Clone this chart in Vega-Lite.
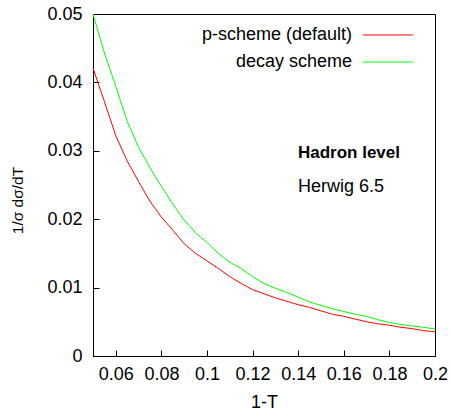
{
  "$schema": "https://vega.github.io/schema/vega-lite/v6.json",
  "width": 342,
  "height": 342,
  "autosize": "none",
  "padding": {"left": 93, "top": 14, "right": 17, "bottom": 54},
  "background": "white",
  "config": {
    "view": {"stroke": "black", "strokeWidth": 1},
    "font": "Liberation Sans",
    "axis": {
      "grid": false,
      "domainColor": "black",
      "labelColor": "black",
      "titleColor": "black",
      "labelFont": "Liberation Sans",
      "titleFont": "Liberation Sans",
      "labelFontSize": 18,
      "titleFontSize": 18,
      "titleFontWeight": "normal",
      "labelFlush": false,
      "labelOverlap": false
    }
  },
  "datasets": {
    "curves": [
      {"t": 0.05, "scheme": "p-scheme (default)", "v": 0.0421},
      {"t": 0.055, "scheme": "p-scheme (default)", "v": 0.0372},
      {"t": 0.06, "scheme": "p-scheme (default)", "v": 0.0322},
      {"t": 0.065, "scheme": "p-scheme (default)", "v": 0.0285},
      {"t": 0.07, "scheme": "p-scheme (default)", "v": 0.0255},
      {"t": 0.075, "scheme": "p-scheme (default)", "v": 0.0226},
      {"t": 0.08, "scheme": "p-scheme (default)", "v": 0.0203},
      {"t": 0.085, "scheme": "p-scheme (default)", "v": 0.0184},
      {"t": 0.09, "scheme": "p-scheme (default)", "v": 0.0164},
      {"t": 0.095, "scheme": "p-scheme (default)", "v": 0.0150},
      {"t": 0.1, "scheme": "p-scheme (default)", "v": 0.0139},
      {"t": 0.105, "scheme": "p-scheme (default)", "v": 0.0128},
      {"t": 0.11, "scheme": "p-scheme (default)", "v": 0.0116},
      {"t": 0.115, "scheme": "p-scheme (default)", "v": 0.0106},
      {"t": 0.12, "scheme": "p-scheme (default)", "v": 0.0097},
      {"t": 0.125, "scheme": "p-scheme (default)", "v": 0.0091},
      {"t": 0.13, "scheme": "p-scheme (default)", "v": 0.0085},
      {"t": 0.135, "scheme": "p-scheme (default)", "v": 0.0080},
      {"t": 0.14, "scheme": "p-scheme (default)", "v": 0.0075},
      {"t": 0.145, "scheme": "p-scheme (default)", "v": 0.0071},
      {"t": 0.15, "scheme": "p-scheme (default)", "v": 0.0066},
      {"t": 0.155, "scheme": "p-scheme (default)", "v": 0.0061},
      {"t": 0.16, "scheme": "p-scheme (default)", "v": 0.0058},
      {"t": 0.165, "scheme": "p-scheme (default)", "v": 0.0054},
      {"t": 0.17, "scheme": "p-scheme (default)", "v": 0.0050},
      {"t": 0.175, "scheme": "p-scheme (default)", "v": 0.0047},
      {"t": 0.18, "scheme": "p-scheme (default)", "v": 0.0045},
      {"t": 0.185, "scheme": "p-scheme (default)", "v": 0.0042},
      {"t": 0.19, "scheme": "p-scheme (default)", "v": 0.0040},
      {"t": 0.195, "scheme": "p-scheme (default)", "v": 0.0037},
      {"t": 0.2, "scheme": "p-scheme (default)", "v": 0.00355},
      {"t": 0.05, "scheme": "decay scheme", "v": 0.0500},
      {"t": 0.055, "scheme": "decay scheme", "v": 0.0443},
      {"t": 0.06, "scheme": "decay scheme", "v": 0.0394},
      {"t": 0.065, "scheme": "decay scheme", "v": 0.0343},
      {"t": 0.07, "scheme": "decay scheme", "v": 0.0305},
      {"t": 0.075, "scheme": "decay scheme", "v": 0.0275},
      {"t": 0.08, "scheme": "decay scheme", "v": 0.0248},
      {"t": 0.085, "scheme": "decay scheme", "v": 0.0222},
      {"t": 0.09, "scheme": "decay scheme", "v": 0.0199},
      {"t": 0.095, "scheme": "decay scheme", "v": 0.0180},
      {"t": 0.1, "scheme": "decay scheme", "v": 0.0166},
      {"t": 0.105, "scheme": "decay scheme", "v": 0.0150},
      {"t": 0.11, "scheme": "decay scheme", "v": 0.0137},
      {"t": 0.115, "scheme": "decay scheme", "v": 0.0128},
      {"t": 0.12, "scheme": "decay scheme", "v": 0.0116},
      {"t": 0.125, "scheme": "decay scheme", "v": 0.0106},
      {"t": 0.13, "scheme": "decay scheme", "v": 0.0099},
      {"t": 0.135, "scheme": "decay scheme", "v": 0.0093},
      {"t": 0.14, "scheme": "decay scheme", "v": 0.0086},
      {"t": 0.145, "scheme": "decay scheme", "v": 0.0079},
      {"t": 0.15, "scheme": "decay scheme", "v": 0.0074},
      {"t": 0.155, "scheme": "decay scheme", "v": 0.0069},
      {"t": 0.16, "scheme": "decay scheme", "v": 0.0065},
      {"t": 0.165, "scheme": "decay scheme", "v": 0.0061},
      {"t": 0.17, "scheme": "decay scheme", "v": 0.0058},
      {"t": 0.175, "scheme": "decay scheme", "v": 0.0053},
      {"t": 0.18, "scheme": "decay scheme", "v": 0.0049},
      {"t": 0.185, "scheme": "decay scheme", "v": 0.0046},
      {"t": 0.19, "scheme": "decay scheme", "v": 0.0044},
      {"t": 0.195, "scheme": "decay scheme", "v": 0.0042},
      {"t": 0.2, "scheme": "decay scheme", "v": 0.00395}
    ]
  },
  "layer": [
    {
      "data": {"name": "curves"},
      "mark": {"type": "line", "strokeWidth": 1},
      "encoding": {
        "x": {
          "field": "t",
          "type": "quantitative",
          "scale": {"domain": [0.05, 0.2], "nice": false, "zero": false},
          "axis": {
            "orient": "bottom",
            "values": [0.06, 0.08, 0.1, 0.12, 0.14, 0.16, 0.18, 0.2],
            "format": "~g",
            "ticks": true,
            "tickSize": -6,
            "tickWidth": 1,
            "tickColor": "black",
            "labelPadding": 15,
            "title": "1-T",
            "titleX": 171,
            "titleY": 46,
            "titleBaseline": "middle",
            "titleAlign": "center"
          }
        },
        "y": {
          "field": "v",
          "type": "quantitative",
          "scale": {"domain": [0, 0.05], "nice": false, "zero": true},
          "axis": {
            "orient": "left",
            "values": [0, 0.01, 0.02, 0.03, 0.04, 0.05],
            "format": "~g",
            "ticks": true,
            "tickSize": -6,
            "tickWidth": 1,
            "tickColor": "black",
            "labelPadding": 17,
            "title": "1/σ dσ/dT",
            "titleFontSize": 15.5,
            "titleX": -76,
            "titleY": 186,
            "titleAngle": -90,
            "titleAlign": "center",
            "titleBaseline": "middle"
          }
        },
        "color": {
          "field": "scheme",
          "type": "nominal",
          "scale": {
            "domain": ["p-scheme (default)", "decay scheme"],
            "range": ["#ff0000", "#00ff00"]
          },
          "legend": null
        }
      }
    },
    {
      "data": {"values": [{"label": "Hadron level"}]},
      "mark": {"type": "text", "align": "left", "baseline": "middle", "fontSize": 17, "fontWeight": "bold", "font": "Liberation Sans", "color": "black"},
      "encoding": {
        "text": {"field": "label"},
        "x": {"datum": 0.1399, "type": "quantitative"},
        "y": {"datum": 0.0297, "type": "quantitative"}
      }
    },
    {
      "data": {"values": [{"label": "Herwig 6.5"}]},
      "mark": {"type": "text", "align": "left", "baseline": "middle", "fontSize": 18, "font": "Liberation Sans", "color": "black"},
      "encoding": {
        "text": {"field": "label"},
        "x": {"datum": 0.1399, "type": "quantitative"},
        "y": {"datum": 0.02475, "type": "quantitative"}
      }
    },
    {
      "data": {"values": [{"scheme": "p-scheme (default)"}]},
      "layer": [
        {
          "mark": {"type": "rule", "strokeWidth": 1},
          "encoding": {
            "x": {"datum": 0.1684, "type": "quantitative"},
            "x2": {"datum": 0.1904},
            "y": {"datum": 0.04693, "type": "quantitative"},
            "color": {"field": "scheme", "type": "nominal", "legend": null}
          }
        },
        {
          "mark": {"type": "text", "align": "right", "baseline": "middle", "fontSize": 18, "font": "Liberation Sans", "color": "black"},
          "encoding": {
            "text": {"field": "scheme"},
            "x": {"datum": 0.1636, "type": "quantitative"},
            "y": {"datum": 0.04693, "type": "quantitative"}
          }
        }
      ]
    },
    {
      "data": {"values": [{"scheme": "decay scheme"}]},
      "layer": [
        {
          "mark": {"type": "rule", "strokeWidth": 1},
          "encoding": {
            "x": {"datum": 0.1684, "type": "quantitative"},
            "x2": {"datum": 0.1904},
            "y": {"datum": 0.04298, "type": "quantitative"},
            "color": {"field": "scheme", "type": "nominal", "legend": null}
          }
        },
        {
          "mark": {"type": "text", "align": "right", "baseline": "middle", "fontSize": 18, "font": "Liberation Sans", "color": "black"},
          "encoding": {
            "text": {"field": "scheme"},
            "x": {"datum": 0.1636, "type": "quantitative"},
            "y": {"datum": 0.04298, "type": "quantitative"}
          }
        }
      ]
    }
  ]
}
